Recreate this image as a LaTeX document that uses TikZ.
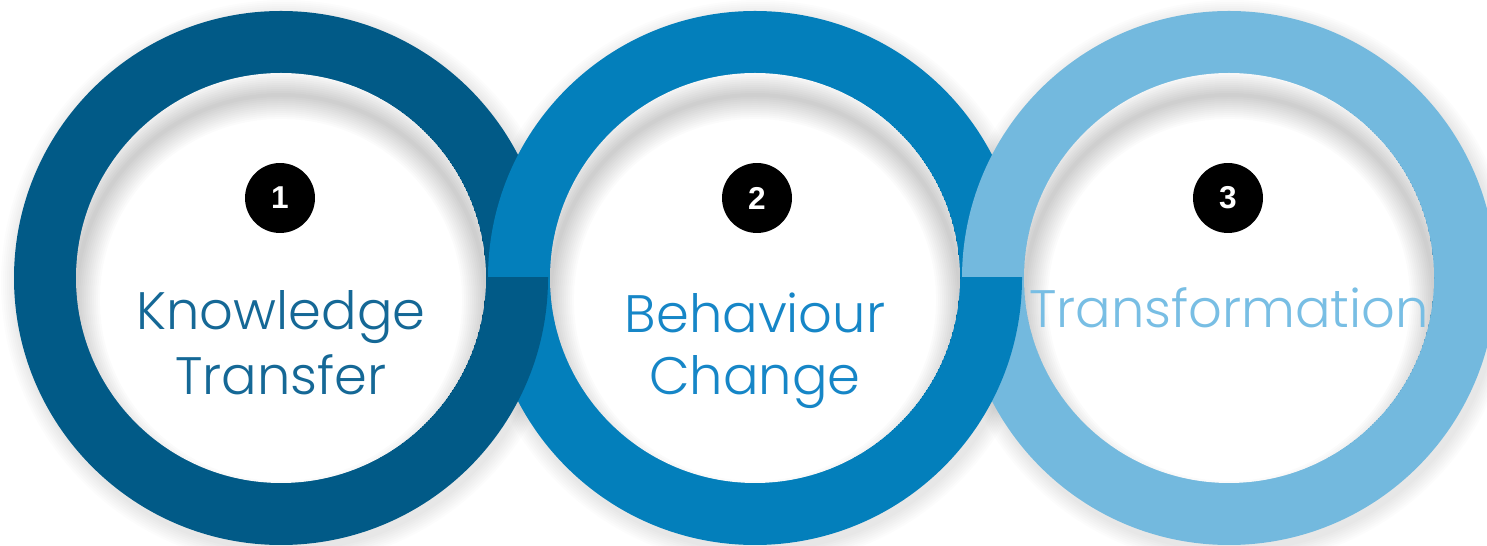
\documentclass[tikz,border=0pt]{standalone}
\usepackage{fontspec}
\setmainfont{Poppins}[UprightFont=* Light]
\newfontfamily\numfont{Liberation Sans}

\definecolor{ringone}{RGB}{1,90,135}
\definecolor{ringtwo}{RGB}{3,127,187}
\definecolor{ringthree}{RGB}{115,185,222}
\definecolor{textone}{RGB}{21,104,150}
\definecolor{texttwo}{RGB}{22,134,199}
\definecolor{textthree}{RGB}{120,190,228}

\begin{document}
\begin{tikzpicture}[x=0.02cm, y=-0.02cm,
	badge/.style={circle, fill=black, minimum size=1.4cm, inner sep=0pt, text=white,
		font=\numfont\bfseries\fontsize{18}{18}\selectfont},
	stagetext/.style={anchor=base, inner sep=0pt, font=\fontsize{30}{36}\selectfont}]
		\useasboundingbox (0, 0) rectangle (1487, 546);
		
		\coordinate (c1) at (281, 278);
		\coordinate (c2) at (755, 278);
		\coordinate (c3) at (1229, 278);
		
		% soft shadow round the rings
		\foreach \c in {c1, c2, c3}
			\foreach \r in {2, 4, ..., 16}
				\fill[black, opacity=0.012] ([shift={(3, 5)}]\c) circle (267 + \r);
		
		% top halves: right ring over left ring
		\begin{scope}
			\clip (0, 0) rectangle (1487, 278);
			\fill[ringone] (c1) circle (267);
			\fill[ringtwo] (c2) circle (267);
			\fill[ringthree] (c3) circle (267);
		\end{scope}
		
		% bottom halves: left ring over right ring
		\begin{scope}
			\clip (0, 278) rectangle (1487, 546);
			\fill[ringthree] (c3) circle (267);
			\fill[ringtwo] (c2) circle (267);
			\fill[ringone] (c1) circle (267);
		\end{scope}
		
		% white discs with inner shadow
		\foreach \c in {c1, c2, c3} {
			\begin{scope}
				\clip (\c) circle (205);
				\fill[white] (\c) circle (205);
				\foreach \w in {4, 8, ..., 48}
					\draw[black, opacity=0.014, line width=\w*0.567pt] ([shift={(0, 22)}]\c) circle (205);
			\end{scope}
		}
		
		\node[badge] (n1) at (280, 198) {1};
		\node[badge] (n2) at (757, 198) {2};
		\node[badge] (n3) at (1228, 198) {3};
		
		\node[stagetext, text=textone] (k1) at (281, 330) {Knowledge};
		\node[stagetext, text=textone] (k2) at (281, 395) {Transfer};
		\node[stagetext, text=texttwo] (b1) at (755, 333) {Behaviour};
		\node[stagetext, text=texttwo] (b2) at (755, 395) {Change};
		\node[stagetext, text=textthree] (t1) at (1229, 328) {Transformation};
	\end{tikzpicture}
\end{document}
